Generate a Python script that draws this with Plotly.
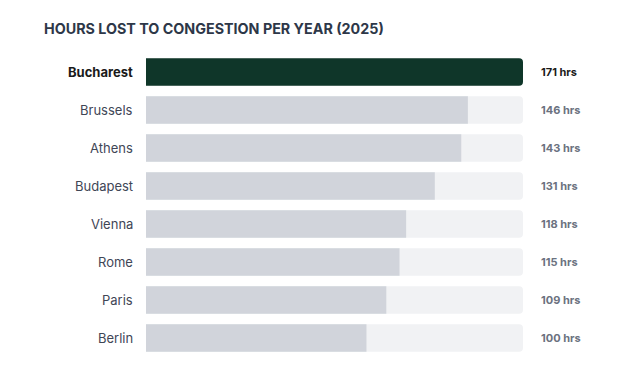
import plotly.graph_objects as go

cities = ["Bucharest", "Brussels", "Athens", "Budapest", "Vienna", "Rome", "Paris", "Berlin"]
hours = [171, 146, 143, 131, 118, 115, 109, 100]
title = "HOURS LOST TO CONGESTION PER YEAR (2025)"

max_val = max(hours)
font = "Inter, Lato, sans-serif"

W, H = 604, 366
ML, MR, MT, MB = 138, 89, 45, 17

fig = go.Figure()
fig.add_trace(go.Bar(
    y=cities, x=[max_val] * len(cities), orientation="h",
    marker=dict(color="#f1f2f4", line=dict(width=0)), width=0.72,
    hoverinfo="skip", showlegend=False,
))
fig.add_trace(go.Bar(
    y=cities, x=hours, orientation="h",
    marker=dict(color=["#0f3629" if i == 0 else "#d1d4db" for i in range(len(cities))], line=dict(width=0)),
    width=0.72, showlegend=False,
))

annotations = []
for i, (c, h) in enumerate(zip(cities, hours)):
    top = i == 0
    annotations.append(dict(
        x=0, xref="paper", y=c, yref="y", xanchor="right", xshift=-11,
        text=f"<b>{c}</b>" if top else c, showarrow=False,
        font=dict(family=font, size=13, color="#1a1a1a" if top else "#3f4656"),
    ))
    annotations.append(dict(
        x=1, xref="paper", y=c, yref="y", xanchor="left", xshift=16,
        text=f"<b>{h} hrs</b>", showarrow=False,
        font=dict(family=font, size=11, color="#1a1a1a" if top else "#6b7280"),
    ))
pw = W - ML - MR
ph = H - MT - MB
annotations.append(dict(
    x=(34 - ML) / pw, xref="paper", y=(H - MB - 20) / ph, yref="paper", showarrow=False,
    text=f"<b>{title}</b>", xanchor="left", yanchor="middle",
    font=dict(family=font, size=14.3, color="#2d3748"),
))

fig.update_layout(
    width=W, height=H,
    margin=dict(l=ML, r=MR, t=MT, b=MB),
    paper_bgcolor="white", plot_bgcolor="white",
    barmode="overlay", barcornerradius=4,
    xaxis=dict(range=[0, max_val], visible=False, fixedrange=True),
    yaxis=dict(autorange="reversed", visible=False, fixedrange=True,
               categoryorder="array", categoryarray=cities),
    annotations=annotations,
    font=dict(family=font),
)

fig.write_html("out.html")
